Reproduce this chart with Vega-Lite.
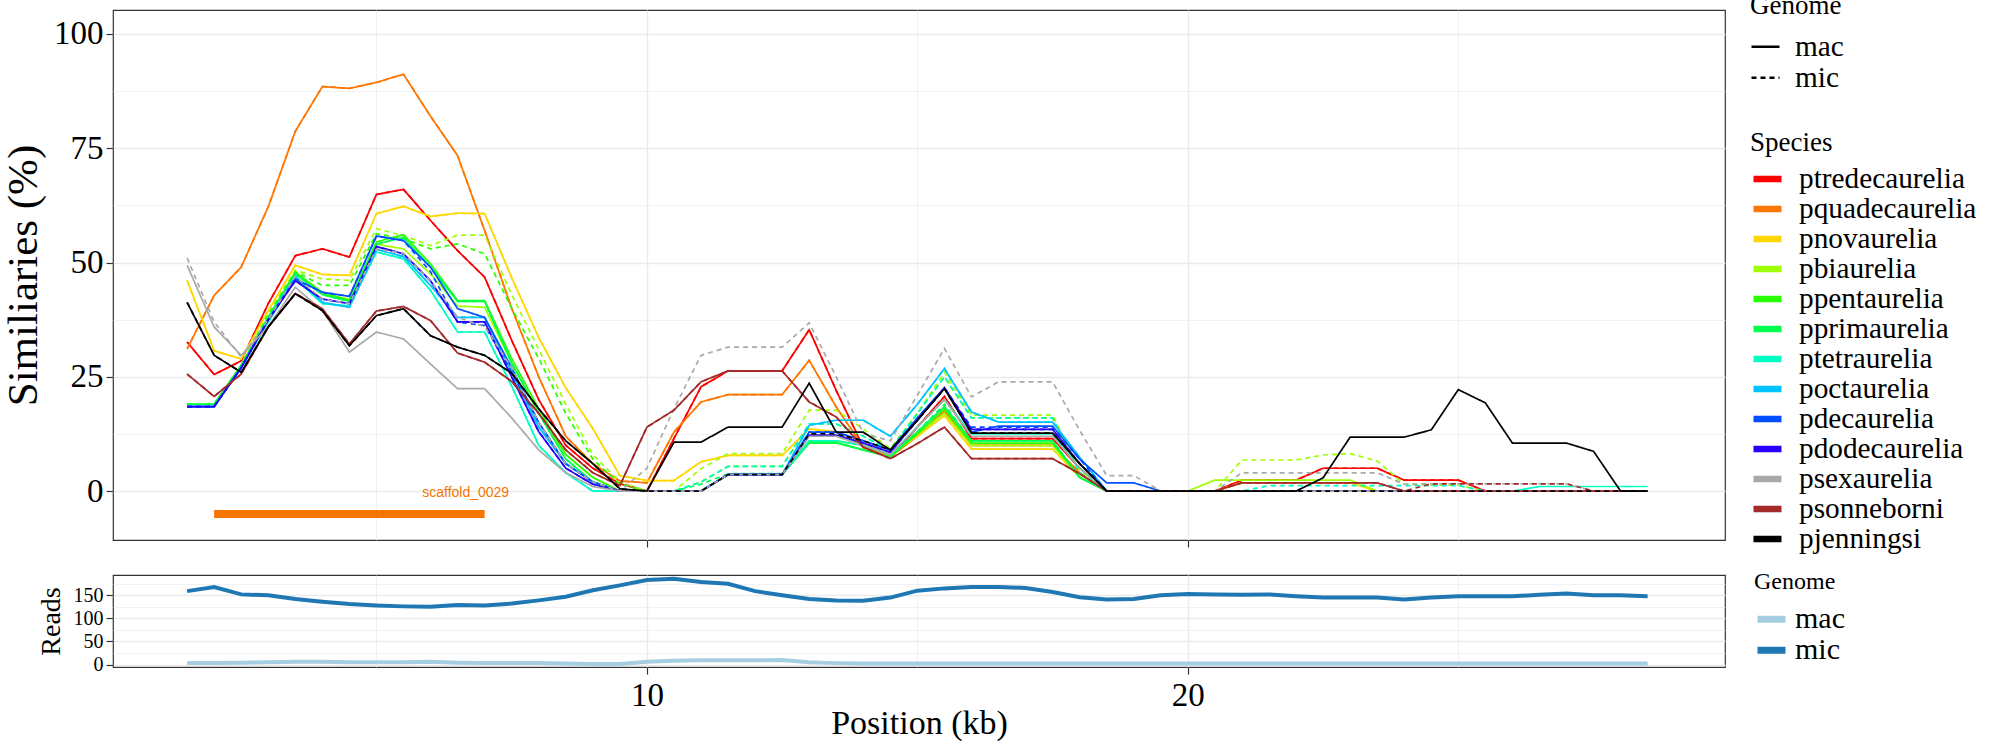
{
  "$schema": "https://vega.github.io/schema/vega-lite/v6.json",
  "background": "white",
  "padding": {"left": 1, "top": -7, "right": 0, "bottom": 0},
  "spacing": 35,
  "bounds": "flush",
  "config": {
    "view": {"stroke": "#333333", "strokeWidth": 1.2},
    "axis": {
      "domain": false,
      "gridColor": "#EBEBEB",
      "tickColor": "#333333",
      "tickWidth": 1.2,
      "labelFont": "Liberation Serif",
      "titleFont": "Liberation Serif",
      "titleFontWeight": "normal",
      "labelColor": "black",
      "titleColor": "black"
    },
    "legend": {
      "labelFont": "Liberation Serif",
      "titleFont": "Liberation Serif",
      "titleFontWeight": "normal",
      "labelColor": "black",
      "titleColor": "black",
      "labelLimit": 400,
      "padding": 0
    }
  },
  "resolve": {"scale": {"x": "independent", "y": "independent", "color": "independent"}},
  "vconcat": [
    {
      "width": 1612,
      "height": 530,
      "layer": [
        {
          "data": {
            "values": [
              {"species": "ptredecaurelia", "genome": "mac", "pos": [1.5,2,2.5,3,3.5,4,4.5,5,5.5,6,6.5,7,7.5,8,8.5,9,9.5,10,10.5,11,11.5,12,12.5,13,13.5,14,14.5,15,15.5,16,16.5,17,17.5,18,18.5,19,19.5,20,20.5,21,21.5,22,22.5,23,23.5,24,24.5,25,25.5,26,26.5,27,27.5,28,28.5], "sim": [32.6,25.5,28.5,41,51.5,53,51.2,64.9,66,59.2,52.6,46.8,33,20,10,5,1.6,0,11.5,22.8,26.3,26.3,26.3,35.3,22,9.6,7.4,14,20.7,11.5,11.5,11.5,11.5,5,0,0,0,0,0,2.4,2.4,2.4,5,5,5,2.4,2.4,2.4,0,0,0,0,0,0,0]},
              {"species": "ptredecaurelia", "genome": "mic", "pos": [1.5,2,2.5,3,3.5,4,4.5,5,5.5,6,6.5,7,7.5,8,8.5,9,9.5,10,10.5,11,11.5,12,12.5,13,13.5,14,14.5,15,15.5,16,16.5,17,17.5,18,18.5,19,19.5,20,20.5,21,21.5,22,22.5,23,23.5,24,24.5,25,25.5,26,26.5,27,27.5,28,28.5], "sim": [32.6,25.5,28.5,41,51.5,53,51.2,64.9,66,59.2,52.6,46.8,33,20,10,5,1.6,0,11.5,22.8,26.3,26.3,26.3,35.3,22,9.6,7.4,14,20.7,11.5,11.5,11.5,11.5,5,0,0,0,0,0,2.4,2.4,2.4,5,5,5,2.4,2.4,2.4,0,0,0,0,0,0,0]},
              {"species": "pquadecaurelia", "genome": "mac", "pos": [1.5,2,2.5,3,3.5,4,4.5,5,5.5,6,6.5,7,7.5,8,8.5,9,9.5,10,10.5,11,11.5,12,12.5,13,13.5,14,14.5,15,15.5,16,16.5,17,17.5,18,18.5,19,19.5,20,20.5,21,21.5,22,22.5,23,23.5,24,24.5,25,25.5,26,26.5,27,27.5,28,28.5], "sim": [31.1,42.8,49,62.2,78.7,88.5,88.1,89.4,91.2,82,73.4,57,40,25,12,6,2.2,1.8,12.9,19.5,21.1,21.1,21.1,28.6,18.4,9.6,7.5,12,17.5,10,10,10,10,4,0,0,0,0,0,0,0,0,0,0,0,0,0,0,0,0,0,0,0,0,0]},
              {"species": "pquadecaurelia", "genome": "mic", "pos": [1.5,2,2.5,3,3.5,4,4.5,5,5.5,6,6.5,7,7.5,8,8.5,9,9.5,10,10.5,11,11.5,12,12.5,13,13.5,14,14.5,15,15.5,16,16.5,17,17.5,18,18.5,19,19.5,20,20.5,21,21.5,22,22.5,23,23.5,24,24.5,25,25.5,26,26.5,27,27.5,28,28.5], "sim": [31.1,42.8,49,62.2,78.7,88.5,88.1,89.4,91.2,82,73.4,57,40,25,12,6,2.2,1.8,12.9,19.5,21.1,21.1,21.1,28.6,18.4,9.6,7.5,12,17.5,10,10,10,10,4,0,0,0,0,0,0,0,0,0,0,0,0,0,0,0,0,0,0,0,0,0]},
              {"species": "pnovaurelia", "genome": "mac", "pos": [1.5,2,2.5,3,3.5,4,4.5,5,5.5,6,6.5,7,7.5,8,8.5,9,9.5,10,10.5,11,11.5,12,12.5,13,13.5,14,14.5,15,15.5,16,16.5,17,17.5,18,18.5,19,19.5,20,20.5,21,21.5,22,22.5,23,23.5,24,24.5,25,25.5,26,26.5,27,27.5,28,28.5], "sim": [46.1,30.7,28.9,39.5,49.4,47.4,47.2,60.7,62.3,60.1,60.8,60.7,46.7,33.6,22.6,13.7,3.4,2.3,2.3,6.4,7.8,7.8,7.8,13.6,13,10,8,12,16.5,9.2,9.2,9.2,9.2,3,0,0,0,0,0,1.8,1.8,1.8,1.8,1.8,0,0,0,0,0,0,0,0,0,0,0]},
              {"species": "pnovaurelia", "genome": "mic", "pos": [1.5,2,2.5,3,3.5,4,4.5,5,5.5,6,6.5,7,7.5,8,8.5,9,9.5,10,10.5,11,11.5,12,12.5,13,13.5,14,14.5,15,15.5,16,16.5,17,17.5,18,18.5,19,19.5,20,20.5,21,21.5,22,22.5,23,23.5,24,24.5,25,25.5,26,26.5,27,27.5,28,28.5], "sim": [46.1,30.7,28.9,39.5,49.4,47.4,47.2,60.7,62.3,60.1,60.8,60.7,46.7,33.6,22.6,13.7,3.4,2.3,2.3,6.4,7.8,7.8,7.8,13.6,13,10,8,12,16.5,9.2,9.2,9.2,9.2,3,0,0,0,0,0,1.8,1.8,1.8,1.8,1.8,0,0,0,0,0,0,0,0,0,0,0]},
              {"species": "pbiaurelia", "genome": "mac", "pos": [1.5,2,2.5,3,3.5,4,4.5,5,5.5,6,6.5,7,7.5,8,8.5,9,9.5,10,10.5,11,11.5,12,12.5,13,13.5,14,14.5,15,15.5,16,16.5,17,17.5,18,18.5,19,19.5,20,20.5,21,21.5,22,22.5,23,23.5,24,24.5,25,25.5,26,26.5,27,27.5,28,28.5], "sim": [19,19,27.5,38,48,43,42,54,53,47.5,40.5,40.2,28,17,8,3,0,0,0,0,3.6,3.6,3.6,11,11,10,8,12.5,17,10,10,10,10,3,0,0,0,0,2.4,2.4,2.4,2.4,2.4,2.4,0,0,0,0,0,0,0,0,0,0,0]},
              {"species": "pbiaurelia", "genome": "mic", "pos": [1.5,2,2.5,3,3.5,4,4.5,5,5.5,6,6.5,7,7.5,8,8.5,9,9.5,10,10.5,11,11.5,12,12.5,13,13.5,14,14.5,15,15.5,16,16.5,17,17.5,18,18.5,19,19.5,20,20.5,21,21.5,22,22.5,23,23.5,24,24.5,25,25.5,26,26.5,27,27.5,28,28.5], "sim": [19,19,27.5,39,48.3,46.4,46.1,57.4,55.9,53.7,56,56,43,31,19,8,2,0,0,4.9,8.2,8.2,8.2,17.7,17.7,13.6,9.3,17,26,16.6,16.6,16.6,16.6,4.5,0,0,0,0,0,6.8,6.8,6.8,7.9,8.2,6.6,1.5,1.3,1.3,0,0,0,0,0,0,0]},
              {"species": "ppentaurelia", "genome": "mac", "pos": [1.5,2,2.5,3,3.5,4,4.5,5,5.5,6,6.5,7,7.5,8,8.5,9,9.5,10,10.5,11,11.5,12,12.5,13,13.5,14,14.5,15,15.5,16,16.5,17,17.5,18,18.5,19,19.5,20,20.5,21,21.5,22,22.5,23,23.5,24,24.5,25,25.5,26,26.5,27,27.5,28,28.5], "sim": [19,19,27.5,38,47.9,43.5,41.7,54.5,56.1,49.7,41.7,41.7,29,18,8,3,0,0,0,0,3.6,3.6,3.6,10.7,10.7,9,7.5,12.5,18,10.5,10.5,10.5,10.5,3,0,0,0,0,0,0,0,0,0,0,0,0,0,0,0,0,0,0,0,0,0]},
              {"species": "ppentaurelia", "genome": "mic", "pos": [1.5,2,2.5,3,3.5,4,4.5,5,5.5,6,6.5,7,7.5,8,8.5,9,9.5,10,10.5,11,11.5,12,12.5,13,13.5,14,14.5,15,15.5,16,16.5,17,17.5,18,18.5,19,19.5,20,20.5,21,21.5,22,22.5,23,23.5,24,24.5,25,25.5,26,26.5,27,27.5,28,28.5], "sim": [19,19,27.5,38.5,48,45,45,56.3,55.2,53,54.1,51.9,40,29,17,7,1.5,0,0,2,5.4,5.4,5.4,14.7,14.7,12,9,17,25,16,16,16,16,4,0,0,0,0,0,0,0,0,0,0,0,0,0,0,0,0,0,0,0,0,0]},
              {"species": "pprimaurelia", "genome": "mac", "pos": [1.5,2,2.5,3,3.5,4,4.5,5,5.5,6,6.5,7,7.5,8,8.5,9,9.5,10,10.5,11,11.5,12,12.5,13,13.5,14,14.5,15,15.5,16,16.5,17,17.5,18,18.5,19,19.5,20,20.5,21,21.5,22,22.5,23,23.5,24,24.5,25,25.5,26,26.5,27,27.5,28,28.5], "sim": [19,19,27.5,38,47.5,43,41.5,54,55.5,49,41.5,41.5,28,17,7,2,0,0,0,0,3.6,3.6,3.6,10.5,10.5,9,7.5,13,18.5,11,11,11,11,3,0,0,0,0,0,0,0,0,0,0,0,0,0,0,0,0,0,0,0,0,0]},
              {"species": "pprimaurelia", "genome": "mic", "pos": [1.5,2,2.5,3,3.5,4,4.5,5,5.5,6,6.5,7,7.5,8,8.5,9,9.5,10,10.5,11,11.5,12,12.5,13,13.5,14,14.5,15,15.5,16,16.5,17,17.5,18,18.5,19,19.5,20,20.5,21,21.5,22,22.5,23,23.5,24,24.5,25,25.5,26,26.5,27,27.5,28,28.5], "sim": [19,19,27.5,38,47.5,43,41.5,54,55.5,49,41.5,41.5,28,17,7,2,0,0,0,1.5,3.8,3.8,3.8,12,12,10,8,13,19,11,11,11,11,3,0,0,0,0,0,0,0,0,0,0,0,0,0,0,0,0,0,0,0,0,0]},
              {"species": "ptetraurelia", "genome": "mac", "pos": [1.5,2,2.5,3,3.5,4,4.5,5,5.5,6,6.5,7,7.5,8,8.5,9,9.5,10,10.5,11,11.5,12,12.5,13,13.5,14,14.5,15,15.5,16,16.5,17,17.5,18,18.5,19,19.5,20,20.5,21,21.5,22,22.5,23,23.5,24,24.5,25,25.5,26,26.5,27,27.5,28,28.5], "sim": [18.5,18.5,27,37,46.5,41,40.5,52.3,50.8,43.9,34.8,34.8,23,10,4,0,0,0,0,0,3.6,3.6,3.6,11,11,10,8,14,20,12.5,12.5,12.5,12.5,5,0,0,0,0,0,0,0,0,0,0,0,0,0,0,0,0,1,1,1,1,1]},
              {"species": "ptetraurelia", "genome": "mic", "pos": [1.5,2,2.5,3,3.5,4,4.5,5,5.5,6,6.5,7,7.5,8,8.5,9,9.5,10,10.5,11,11.5,12,12.5,13,13.5,14,14.5,15,15.5,16,16.5,17,17.5,18,18.5,19,19.5,20,20.5,21,21.5,22,22.5,23,23.5,24,24.5,25,25.5,26,26.5,27,27.5,28,28.5], "sim": [18.5,18.5,27,37,46.5,41,40.5,52.3,50.8,43.9,34.8,34.8,23,10,4,0,0,0,0,2,5.4,5.4,5.4,14.7,14.7,12,9,17,25,16,16,16,16,4,0,0,0,0,0,0,1.2,1.2,1.2,1.2,1.2,1.2,1.2,1.2,0,0,0,0,0,0,0]},
              {"species": "poctaurelia", "genome": "mac", "pos": [1.5,2,2.5,3,3.5,4,4.5,5,5.5,6,6.5,7,7.5,8,8.5,9,9.5,10,10.5,11,11.5,12,12.5,13,13.5,14,14.5,15,15.5,16,16.5,17,17.5,18,18.5,19,19.5,20,20.5,21,21.5,22,22.5,23,23.5,24,24.5,25,25.5,26,26.5,27,27.5,28,28.5], "sim": [18.5,18.5,27,37.5,47,41.3,40.2,52.9,51.3,45,38,38,26,14,6,2,0,0,0,0,3.6,3.6,3.6,14.4,15.5,15.5,12,19,26.8,17.3,15.1,15.1,15.1,7.4,0,0,0,0,0,0,0,0,0,0,0,0,0,0,0,0,0,0,0,0,0]},
              {"species": "poctaurelia", "genome": "mic", "pos": [1.5,2,2.5,3,3.5,4,4.5,5,5.5,6,6.5,7,7.5,8,8.5,9,9.5,10,10.5,11,11.5,12,12.5,13,13.5,14,14.5,15,15.5,16,16.5,17,17.5,18,18.5,19,19.5,20,20.5,21,21.5,22,22.5,23,23.5,24,24.5,25,25.5,26,26.5,27,27.5,28,28.5], "sim": [18.5,18.5,27,37.5,47,41.3,40.2,52.9,51.3,45,38,38,26,14,6,2,0,0,0,0,3.6,3.6,3.6,14.4,15.5,15.5,12,19,26.8,17.3,15.1,15.1,15.1,7.4,0,0,0,0,0,0,0,0,0,0,0,0,0,0,0,0,0,0,0,0,0]},
              {"species": "pdecaurelia", "genome": "mac", "pos": [1.5,2,2.5,3,3.5,4,4.5,5,5.5,6,6.5,7,7.5,8,8.5,9,9.5,10,10.5,11,11.5,12,12.5,13,13.5,14,14.5,15,15.5,16,16.5,17,17.5,18,18.5,19,19.5,20,20.5,21,21.5,22,22.5,23,23.5,24,24.5,25,25.5,26,26.5,27,27.5,28,28.5], "sim": [18.5,18.5,27,37.5,46.4,43.5,42.6,55.8,54.8,49,39.9,38,27,15,6,2,0,0,0,0,3.6,3.6,3.6,12.9,12.9,11,9,16,22.6,12.9,14.2,14.2,14.2,7,1.8,1.8,0,0,0,0,0,0,0,0,0,0,0,0,0,0,0,0,0,0,0]},
              {"species": "pdecaurelia", "genome": "mic", "pos": [1.5,2,2.5,3,3.5,4,4.5,5,5.5,6,6.5,7,7.5,8,8.5,9,9.5,10,10.5,11,11.5,12,12.5,13,13.5,14,14.5,15,15.5,16,16.5,17,17.5,18,18.5,19,19.5,20,20.5,21,21.5,22,22.5,23,23.5,24,24.5,25,25.5,26,26.5,27,27.5,28,28.5], "sim": [18.5,18.5,27,37.5,46.4,43.5,42.6,55.8,54.8,48,37,36.2,26,15,6,2,0,0,0,0,3.6,3.6,3.6,12.9,12.9,11,9,16,22.6,14,14,14,14,7,0,0,0,0,0,0,0,0,0,0,0,0,0,0,0,0,0,0,0,0,0]},
              {"species": "pdodecaurelia", "genome": "mac", "pos": [1.5,2,2.5,3,3.5,4,4.5,5,5.5,6,6.5,7,7.5,8,8.5,9,9.5,10,10.5,11,11.5,12,12.5,13,13.5,14,14.5,15,15.5,16,16.5,17,17.5,18,18.5,19,19.5,20,20.5,21,21.5,22,22.5,23,23.5,24,24.5,25,25.5,26,26.5,27,27.5,28,28.5], "sim": [18.5,18.5,27,37.5,46,42,41,53.5,51.9,46,37,37,25,13,5,1.5,0,0,0,0,3.6,3.6,3.6,12.2,12.2,10.5,8.5,15.5,22.6,13.5,13.5,13.5,13.5,6,0,0,0,0,0,0,0,0,0,0,0,0,0,0,0,0,0,0,0,0,0]},
              {"species": "pdodecaurelia", "genome": "mic", "pos": [1.5,2,2.5,3,3.5,4,4.5,5,5.5,6,6.5,7,7.5,8,8.5,9,9.5,10,10.5,11,11.5,12,12.5,13,13.5,14,14.5,15,15.5,16,16.5,17,17.5,18,18.5,19,19.5,20,20.5,21,21.5,22,22.5,23,23.5,24,24.5,25,25.5,26,26.5,27,27.5,28,28.5], "sim": [18.5,18.5,27,37.5,46,42,41,53.5,51.9,46,37,37,25,13,5,1.5,0,0,0,0,3.6,3.6,3.6,12.2,12.2,10.5,8.5,15.5,22.6,13.5,13.5,13.5,13.5,6,0,0,0,0,0,0,0,0,0,0,0,0,0,0,0,0,0,0,0,0,0]},
              {"species": "psexaurelia", "genome": "mac", "pos": [1.5,2,2.5,3,3.5,4,4.5,5,5.5,6,6.5,7,7.5,8,8.5,9,9.5,10,10.5,11,11.5,12,12.5,13,13.5,14,14.5,15,15.5,16,16.5,17,17.5,18,18.5,19,19.5,20,20.5,21,21.5,22,22.5,23,23.5,24,24.5,25,25.5,26,26.5,27,27.5,28,28.5], "sim": [49.4,35.9,29.7,36,44.6,39.5,30.4,34.8,33.3,27.8,22.4,22.4,16,9,4,1,0,0,0,0,3.6,3.6,3.6,12,12,10,8,14,20,12,12,12,12,5,0,0,0,0,0,0,0,0,0,0,0,0,0,0,0,0,0,0,0,0,0]},
              {"species": "psexaurelia", "genome": "mic", "pos": [1.5,2,2.5,3,3.5,4,4.5,5,5.5,6,6.5,7,7.5,8,8.5,9,9.5,10,10.5,11,11.5,12,12.5,13,13.5,14,14.5,15,15.5,16,16.5,17,17.5,18,18.5,19,19.5,20,20.5,21,21.5,22,22.5,23,23.5,24,24.5,25,25.5,26,26.5,27,27.5,28,28.5], "sim": [51,37,29.3,37.5,47,42,41,53,52,46,38,36,27,15,6,2,0,5,18,29.7,31.5,31.5,31.5,36.8,25,12.6,11,21,31.2,20.6,23.9,23.9,23.9,13.3,3.4,3.4,0,0,0,4,4,4,4,4,4,1.5,1.6,1.6,1.6,1.6,1.6,1.6,0,0,0]},
              {"species": "psonneborni", "genome": "mac", "pos": [1.5,2,2.5,3,3.5,4,4.5,5,5.5,6,6.5,7,7.5,8,8.5,9,9.5,10,10.5,11,11.5,12,12.5,13,13.5,14,14.5,15,15.5,16,16.5,17,17.5,18,18.5,19,19.5,20,20.5,21,21.5,22,22.5,23,23.5,24,24.5,25,25.5,26,26.5,27,27.5,28,28.5], "sim": [25.6,20.7,25.6,35.9,43.2,39.9,32.2,39.4,40.4,37.3,30.2,28.2,24,17,9,4,1.2,14,17.7,23.9,26.3,26.3,26.3,19.5,16.2,9.6,7.1,10.4,14,7.1,7.1,7.1,7.1,3.8,0,0,0,0,0,1.8,1.8,1.8,1.8,1.8,1.8,0,0,0,0,0,0,0,0,0,0]},
              {"species": "psonneborni", "genome": "mic", "pos": [1.5,2,2.5,3,3.5,4,4.5,5,5.5,6,6.5,7,7.5,8,8.5,9,9.5,10,10.5,11,11.5,12,12.5,13,13.5,14,14.5,15,15.5,16,16.5,17,17.5,18,18.5,19,19.5,20,20.5,21,21.5,22,22.5,23,23.5,24,24.5,25,25.5,26,26.5,27,27.5,28,28.5], "sim": [25.6,20.7,25.6,35.9,43.2,39.9,32.2,39.4,40.4,37.3,30.2,28.2,24,17,9,4,1.2,14,17.7,23.9,26.3,26.3,26.3,19.5,16.2,9.6,7.1,10.4,14,7.1,7.1,7.1,7.1,3.8,0,0,0,0,0,1.8,1.8,1.8,1.8,1.8,1.8,0,1.6,1.6,1.6,1.6,1.6,1.6,0,0,0]},
              {"species": "pjenningsi", "genome": "mac", "pos": [1.5,2,2.5,3,3.5,4,4.5,5,5.5,6,6.5,7,7.5,8,8.5,9,9.5,10,10.5,11,11.5,12,12.5,13,13.5,14,14.5,15,15.5,16,16.5,17,17.5,18,18.5,19,19.5,20,20.5,21,21.5,22,22.5,23,23.5,24,24.5,25,25.5,26,26.5,27,27.5,28,28.5], "sim": [41.3,29.7,26,35.9,43.2,39.5,31.8,38.4,39.9,34,31.5,29.7,25.8,18,11,6,0.5,0,10.7,10.7,14,14,14,23.6,12.9,12.9,9,15.5,22.4,12.7,12.7,12.7,12.7,6,0,0,0,0,0,0,0,0,2.9,11.8,11.8,11.8,13.4,22.2,19.3,10.5,10.5,10.5,8.7,0,0]},
              {"species": "pjenningsi", "genome": "mic", "pos": [1.5,2,2.5,3,3.5,4,4.5,5,5.5,6,6.5,7,7.5,8,8.5,9,9.5,10,10.5,11,11.5,12,12.5,13,13.5,14,14.5,15,15.5,16,16.5,17,17.5,18,18.5,19,19.5,20,20.5,21,21.5,22,22.5,23,23.5,24,24.5,25,25.5,26,26.5,27,27.5,28,28.5], "sim": [41.3,29.7,26,35.9,43.2,39.5,31.8,38.4,39.9,34,31.5,29.7,25.8,18,11,6,0.5,0,0,0,3.6,3.6,3.6,12.5,12.5,11,9,15.5,22.4,12.7,12.7,12.7,12.7,6,0,0,0,0,0,0,0,0,0,0,0,0,0,0,0,0,0,0,0,0,0]}
            ]
          },
          "transform": [{"flatten": ["pos", "sim"]}],
          "mark": {"type": "line", "strokeWidth": 1.7},
          "encoding": {
            "x": {
              "field": "pos",
              "type": "quantitative",
              "scale": {"domain": [0.13, 29.93], "nice": false, "zero": false},
              "axis": {
                "values": [5, 10, 15, 20, 25],
                "labels": false,
                "title": null,
                "tickSize": 7,
                "tickOpacity": {"condition": {"test": "datum.value % 10 === 0", "value": 1}, "value": 0},
                "gridWidth": {"condition": {"test": "datum.value % 10 === 0", "value": 1.4}, "value": 0.7}
              }
            },
            "y": {
              "field": "sim",
              "type": "quantitative",
              "scale": {"domain": [-10.7, 105.25], "nice": false},
              "axis": {
                "values": [0, 12.5, 25, 37.5, 50, 62.5, 75, 87.5, 100],
                "labelExpr": "datum.value % 25 === 0 ? datum.label : ''",
                "title": "Similiaries (%)",
                "titleFontSize": 43,
                "titlePadding": 8,
                "labelFontSize": 33,
                "labelPadding": 3,
                "tickSize": 7,
                "tickOpacity": {"condition": {"test": "datum.value % 25 === 0", "value": 1}, "value": 0},
                "gridWidth": {"condition": {"test": "datum.value % 25 === 0", "value": 1.4}, "value": 0.7}
              }
            },
            "color": {
              "field": "species",
              "type": "nominal",
              "scale": {
                "domain": ["ptredecaurelia", "pquadecaurelia", "pnovaurelia", "pbiaurelia", "ppentaurelia", "pprimaurelia", "ptetraurelia", "poctaurelia", "pdecaurelia", "pdodecaurelia", "psexaurelia", "psonneborni", "pjenningsi"],
                "range": ["#FF0000", "#FF7600", "#FFD700", "#9DFF00", "#27FF00", "#00FF4E", "#00FFC4", "#00C4FF", "#004EFF", "#2700FF", "#A9A9A9", "#A52A2A", "#000000"]
              },
              "legend": {
                "title": "Species",
                "orient": "none",
                "legendX": 1637,
                "legendY": 119.5,
                "titleFontSize": 27,
                "titlePadding": 8,
                "labelFontSize": 29.3,
                "labelOffset": 14,
                "clipHeight": 29,
                "rowPadding": 0,
                "symbolType": "stroke",
                "symbolStrokeWidth": 6.5,
                "symbolSize": 784
              }
            },
            "strokeDash": {
              "field": "genome",
              "type": "nominal",
              "scale": {"domain": ["mac", "mic"], "range": [[1, 0], [5, 4]]},
              "legend": {
                "title": "Genome",
                "orient": "none",
                "legendX": 1637,
                "legendY": -17,
                "titleFontSize": 27,
                "titlePadding": 13,
                "labelFontSize": 29.3,
                "labelOffset": 14,
                "clipHeight": 27.5,
                "rowPadding": 0,
                "symbolType": "stroke",
                "symbolStrokeColor": "black",
                "symbolStrokeWidth": 2.5,
                "symbolSize": 784
              }
            }
          }
        },
        {
          "data": {"values": [{"start": 2, "end": 7, "y": -5}]},
          "mark": {"type": "rule", "color": "#F57500", "strokeWidth": 8},
          "encoding": {
            "x": {"field": "start", "type": "quantitative"},
            "x2": {"field": "end"},
            "y": {"field": "y", "type": "quantitative"}
          }
        },
        {
          "data": {"values": [{"x": 6.65, "y": -0.4, "label": "scaffold_0029"}]},
          "mark": {"type": "text", "font": "Liberation Sans", "fontSize": 14, "color": "#F57500", "align": "center", "baseline": "middle"},
          "encoding": {
            "x": {"field": "x", "type": "quantitative"},
            "y": {"field": "y", "type": "quantitative"},
            "text": {"field": "label"}
          }
        }
      ]
    },
    {
      "width": 1612,
      "height": 92,
      "data": {
        "values": [
          {"genome": "mac", "pos": [1.5,2,2.5,3,3.5,4,4.5,5,5.5,6,6.5,7,7.5,8,8.5,9,9.5,10,10.5,11,11.5,12,12.5,13,13.5,14,14.5,15,15.5,16,16.5,17,17.5,18,18.5,19,19.5,20,20.5,21,21.5,22,22.5,23,23.5,24,24.5,25,25.5,26,26.5,27,27.5,28,28.5], "reads": [3,3,4,5,6,6,5,5,5,6,4,3,3,3,2,1,1,6,8,9,9,9,10,5,3,2,2,2,2,2,2,2,2,2,2,2,2,2,2,2,2,2,2,2,2,2,2,2,2,2,2,2,2,2,2]},
          {"genome": "mic", "pos": [1.5,2,2.5,3,3.5,4,4.5,5,5.5,6,6.5,7,7.5,8,8.5,9,9.5,10,10.5,11,11.5,12,12.5,13,13.5,14,14.5,15,15.5,16,16.5,17,17.5,18,18.5,19,19.5,20,20.5,21,21.5,22,22.5,23,23.5,24,24.5,25,25.5,26,26.5,27,27.5,28,28.5], "reads": [159,168,152,150,142,136,131,128,126,125,129,128,132,139,147,161,171.5,183,186,179,175,159,150,142,139,138,145,160,165,168,168,166,157,146,141,142,150,153,152,151,152,148,145,145,145,141,145,148,148,148,151,154,150,150,148]}
        ]
      },
      "transform": [{"flatten": ["pos", "reads"]}],
      "mark": {"type": "line", "strokeWidth": 4},
      "encoding": {
        "x": {
          "field": "pos",
          "type": "quantitative",
          "scale": {"domain": [0.13, 29.93], "nice": false, "zero": false},
          "axis": {
            "values": [5, 10, 15, 20, 25],
            "labelExpr": "datum.value % 10 === 0 ? datum.label : ''",
            "title": "Position (kb)",
            "titleFontSize": 34,
            "titlePadding": -6,
            "labelFontSize": 33,
            "labelPadding": 5,
            "tickSize": 7,
            "tickOpacity": {"condition": {"test": "datum.value % 10 === 0", "value": 1}, "value": 0},
            "gridWidth": {"condition": {"test": "datum.value % 10 === 0", "value": 1.4}, "value": 0.7}
          }
        },
        "y": {
          "field": "reads",
          "type": "quantitative",
          "scale": {"domain": [-5.4, 194], "nice": false},
          "axis": {
            "values": [0, 25, 50, 75, 100, 125, 150, 175],
            "labelExpr": "datum.value % 50 === 0 ? datum.label : ''",
            "title": "Reads",
            "titleFontSize": 28,
            "titlePadding": 8,
            "labelFontSize": 20,
            "labelPadding": 3,
            "tickSize": 7,
            "tickOpacity": {"condition": {"test": "datum.value % 50 === 0", "value": 1}, "value": 0},
            "gridWidth": {"condition": {"test": "datum.value % 50 === 0", "value": 1.4}, "value": 0.7}
          }
        },
        "color": {
          "field": "genome",
          "type": "nominal",
          "scale": {"domain": ["mac", "mic"], "range": ["#A6CEE3", "#1F78B4"]},
          "legend": {
            "title": "Genome",
            "orient": "none",
            "legendX": 1641,
            "legendY": -5.5,
            "titleFontSize": 24,
            "titlePadding": 11,
            "labelFontSize": 30,
            "labelOffset": 6,
            "clipHeight": 29.3,
            "rowPadding": 0,
            "symbolType": "stroke",
            "symbolStrokeWidth": 7,
            "symbolSize": 784
          }
        }
      }
    }
  ]
}
